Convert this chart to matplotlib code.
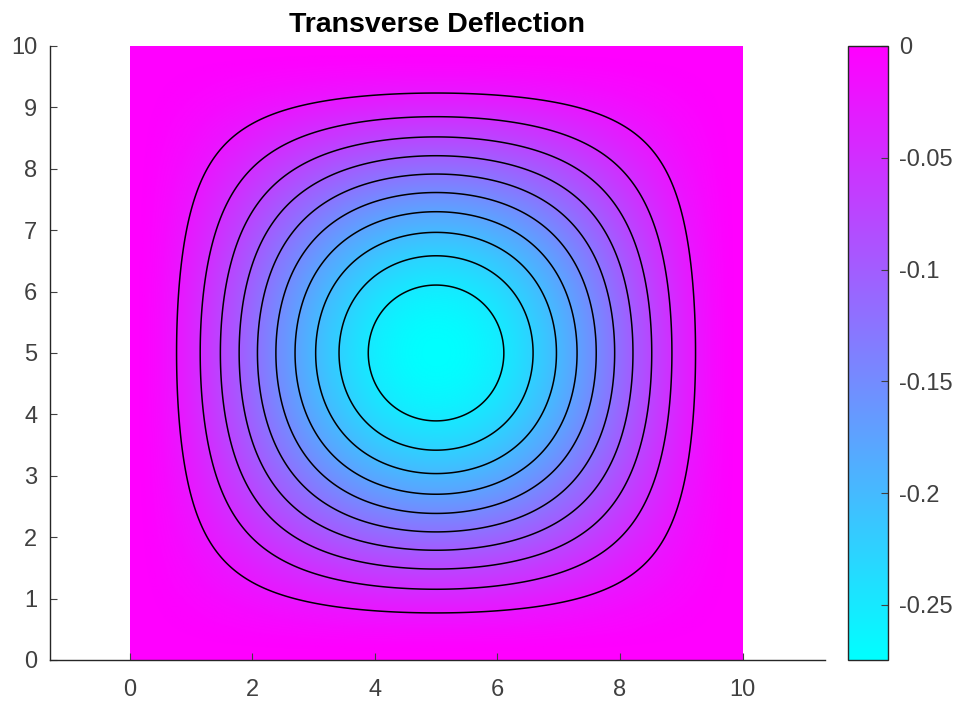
import numpy as np
import matplotlib.pyplot as plt

plt.rcParams['font.family'] = ['Liberation Sans', 'DejaVu Sans']

# clamped square plate, uniform pressure load
plate_length = 10.0
center_deflection = -0.2746
shape_exponent = 1.9
n_contours = 10

x_ticks = [0, 2, 4, 6, 8, 10]
y_ticks = [0, 1, 2, 3, 4, 5, 6, 7, 8, 9, 10]
cbar_ticks = [0, -0.05, -0.1, -0.15, -0.2, -0.25]
cbar_labels = ['0', '-0.05', '-0.1', '-0.15', '-0.2', '-0.25']

# deflection field on the plate
L = plate_length
x = np.linspace(0, L, 601)
X, Y = np.meshgrid(x, x)
sx = X * (L - X) / (L / 2) ** 2
sy = Y * (L - Y) / (L / 2) ** 2
W = center_deflection * (sx * sy) ** shape_exponent

fig = plt.figure(figsize=(9.6, 7.03), dpi=100)
ax = fig.add_axes([0.052, 0.0612, 0.807, 0.8734])

im = ax.imshow(W, extent=[0, L, 0, L], origin='lower', cmap='cool',
               vmin=W.min(), vmax=0, interpolation='bilinear', aspect='auto')
levels = np.linspace(W.min(), W.max(), n_contours + 2)[1:-1]
ax.contour(X, Y, W, levels=levels, colors='black', linewidths=1.1,
           linestyles='solid')

ax.set_xlim(-1.3, 11.34)
ax.set_ylim(0, 10)
ax.set_xticks(x_ticks)
ax.set_yticks(y_ticks)
for s in ['top', 'right']:
    ax.spines[s].set_visible(False)
for s in ['left', 'bottom']:
    ax.spines[s].set_color('#262626')
    ax.spines[s].set_linewidth(1.0)
ax.tick_params(direction='in', length=5, labelsize=17, colors='#404040')
ax.tick_params(axis='x', pad=14)
ax.tick_params(axis='y', pad=9)
ax.set_title('Transverse Deflection', fontsize=20.5, fontweight='bold', pad=10)

cax = fig.add_axes([0.8833, 0.0612, 0.0417, 0.8734])
cb = fig.colorbar(im, cax=cax, ticks=cbar_ticks)
cb.ax.set_yticklabels(cbar_labels)
cb.outline.set_edgecolor('#262626')
cb.outline.set_linewidth(1.0)
cax.tick_params(direction='in', length=5, labelsize=17, colors='#404040', pad=8)

fig.savefig('out.png', dpi=100)
